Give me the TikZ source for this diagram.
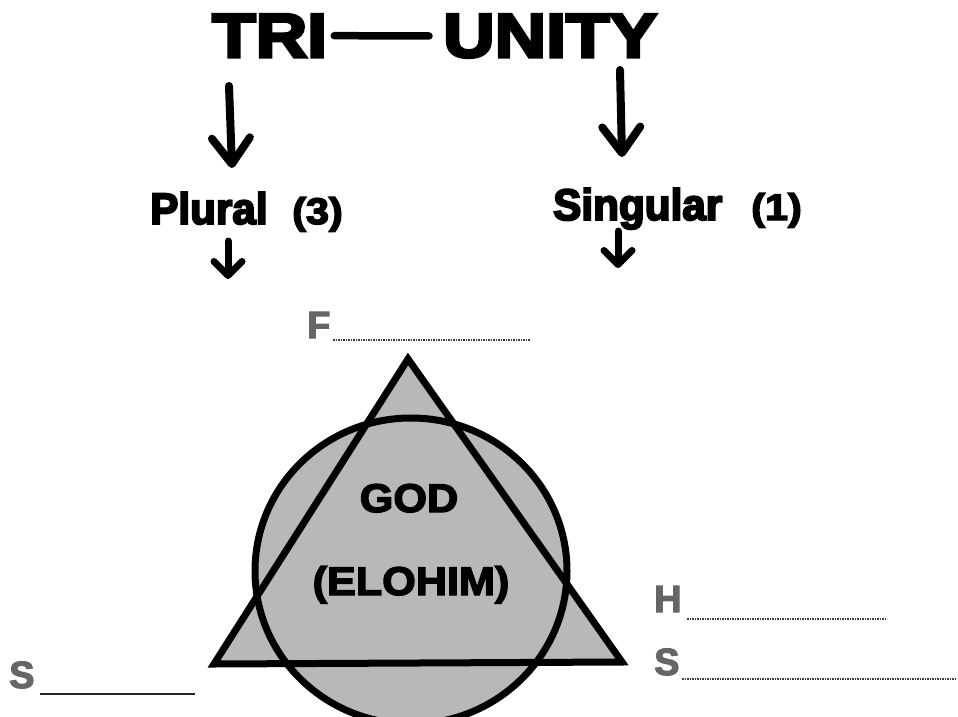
\documentclass[tikz,border=0pt]{standalone}
\usepackage{fontspec}
\usetikzlibrary{arrows.meta}
\newfontfamily\titlefont[FakeBold=5,FakeStretch=1.15]{Liberation Sans Bold}
\newfontfamily\labfont[FakeBold=4.5,FakeStretch=0.96]{Liberation Sans Bold}
\newfontfamily\numfont[FakeBold=4,FakeStretch=1.12]{Liberation Sans Bold}
\newfontfamily\godfont[FakeBold=3.5,FakeStretch=1.08]{Liberation Sans Bold}
\newfontfamily\letterfont[FakeBold=3]{Liberation Sans Bold}
\definecolor{stipple}{gray}{0.72}
\definecolor{lettergray}{gray}{0.40}
\begin{document}
\begin{tikzpicture}[x=1pt,y=-1pt,
  txt/.style={inner sep=0pt, anchor=base west},
  bigarrow/.style={line width=8pt, line cap=round, -{Straight Barb[length=26pt,width=38pt,round]}},
  smallarrow/.style={line width=7pt, line cap=round, -{Straight Barb[length=14pt,width=28pt,round]}},
  shapeline/.style={line width=7pt, line join=miter},
  blankdots/.style={line width=1.6pt, black!75, dash pattern=on 1.6pt off 0.9pt},
  blanksolid/.style={line width=1.8pt, black!85},
  stippletext/.style={txt, text=lettergray, font=\letterfont\fontsize{38}{38}\selectfont}]
\useasboundingbox (0,0) rectangle (958,717);

% title
\node[txt, font=\titlefont\fontsize{62}{62}\selectfont] (tri) at (212,57) {TRI};
\node[txt, font=\titlefont\fontsize{62}{62}\selectfont] (unity) at (443,57) {UNITY};
\draw[line width=7.5pt, line cap=round] ([xshift=7pt]tri.east) -- ([xshift=-14pt]unity.west);

% second row
\node[txt, font=\labfont\fontsize{44}{44}\selectfont] (plural) at (150,224) {Plural};
\node[txt, font=\numfont\fontsize{37}{37}\selectfont] (three) at (292,224) {(3)};
\node[txt, font=\labfont\fontsize{44}{44}\selectfont] (singular) at (553,220) {Singular};
\node[txt, font=\numfont\fontsize{37}{37}\selectfont] (one) at (751,220) {(1)};

% arrows
\coordinate (a1s) at (229,86);
\coordinate (a1e) at (232,168);
\coordinate (a2s) at (620,70);
\coordinate (a2e) at (622,157);
\coordinate (a3s) at (228,241);
\coordinate (a3e) at (228,279);
\coordinate (a4s) at (618,231);
\coordinate (a4e) at (618,268);
\draw[bigarrow] (a1s) -- (a1e);
\draw[bigarrow] (a2s) -- (a2e);
\draw[smallarrow] (a3s) -- (a3e);
\draw[smallarrow] (a4s) -- (a4e);

% figure
\coordinate (apex) at (408,359);
\coordinate (bl) at (214,664);
\coordinate (br) at (622,662);
\coordinate (cc) at (411,571);
\fill[stipple] (cc) ellipse [x radius=156, y radius=153];
\fill[stipple] (apex) -- (bl) -- (br) -- cycle;
\draw[shapeline] (cc) ellipse [x radius=156, y radius=153];
\draw[shapeline] (apex) -- (bl) -- (br) -- cycle;

\node[inner sep=0pt, anchor=base, font=\godfont\fontsize{40}{40}\selectfont] (god) at (409,512) {GOD};
\node[inner sep=0pt, anchor=base, font=\godfont\fontsize{40}{40}\selectfont] (elohim) at (411,595) {(ELOHIM)};

% blanks
\node[stippletext] (f) at (307,338) {F};
\coordinate (fl1) at (333,340);
\coordinate (fl2) at (530,340);
\draw[blankdots] (fl1) -- (fl2);

\node[stippletext] (h) at (654,612) {H};
\coordinate (hl1) at (687,619);
\coordinate (hl2) at (887,619);
\draw[blankdots] (hl1) -- (hl2);

\node[stippletext] (s2) at (654,675) {S};
\coordinate (sl1) at (682,679);
\coordinate (sl2) at (957,679);
\draw[blankdots] (sl1) -- (sl2);

\node[stippletext] (s1) at (9,688) {S};
\coordinate (ll1) at (40,694);
\coordinate (ll2) at (195,694);
\draw[blanksolid] (ll1) -- (ll2);
\end{tikzpicture}
\end{document}
